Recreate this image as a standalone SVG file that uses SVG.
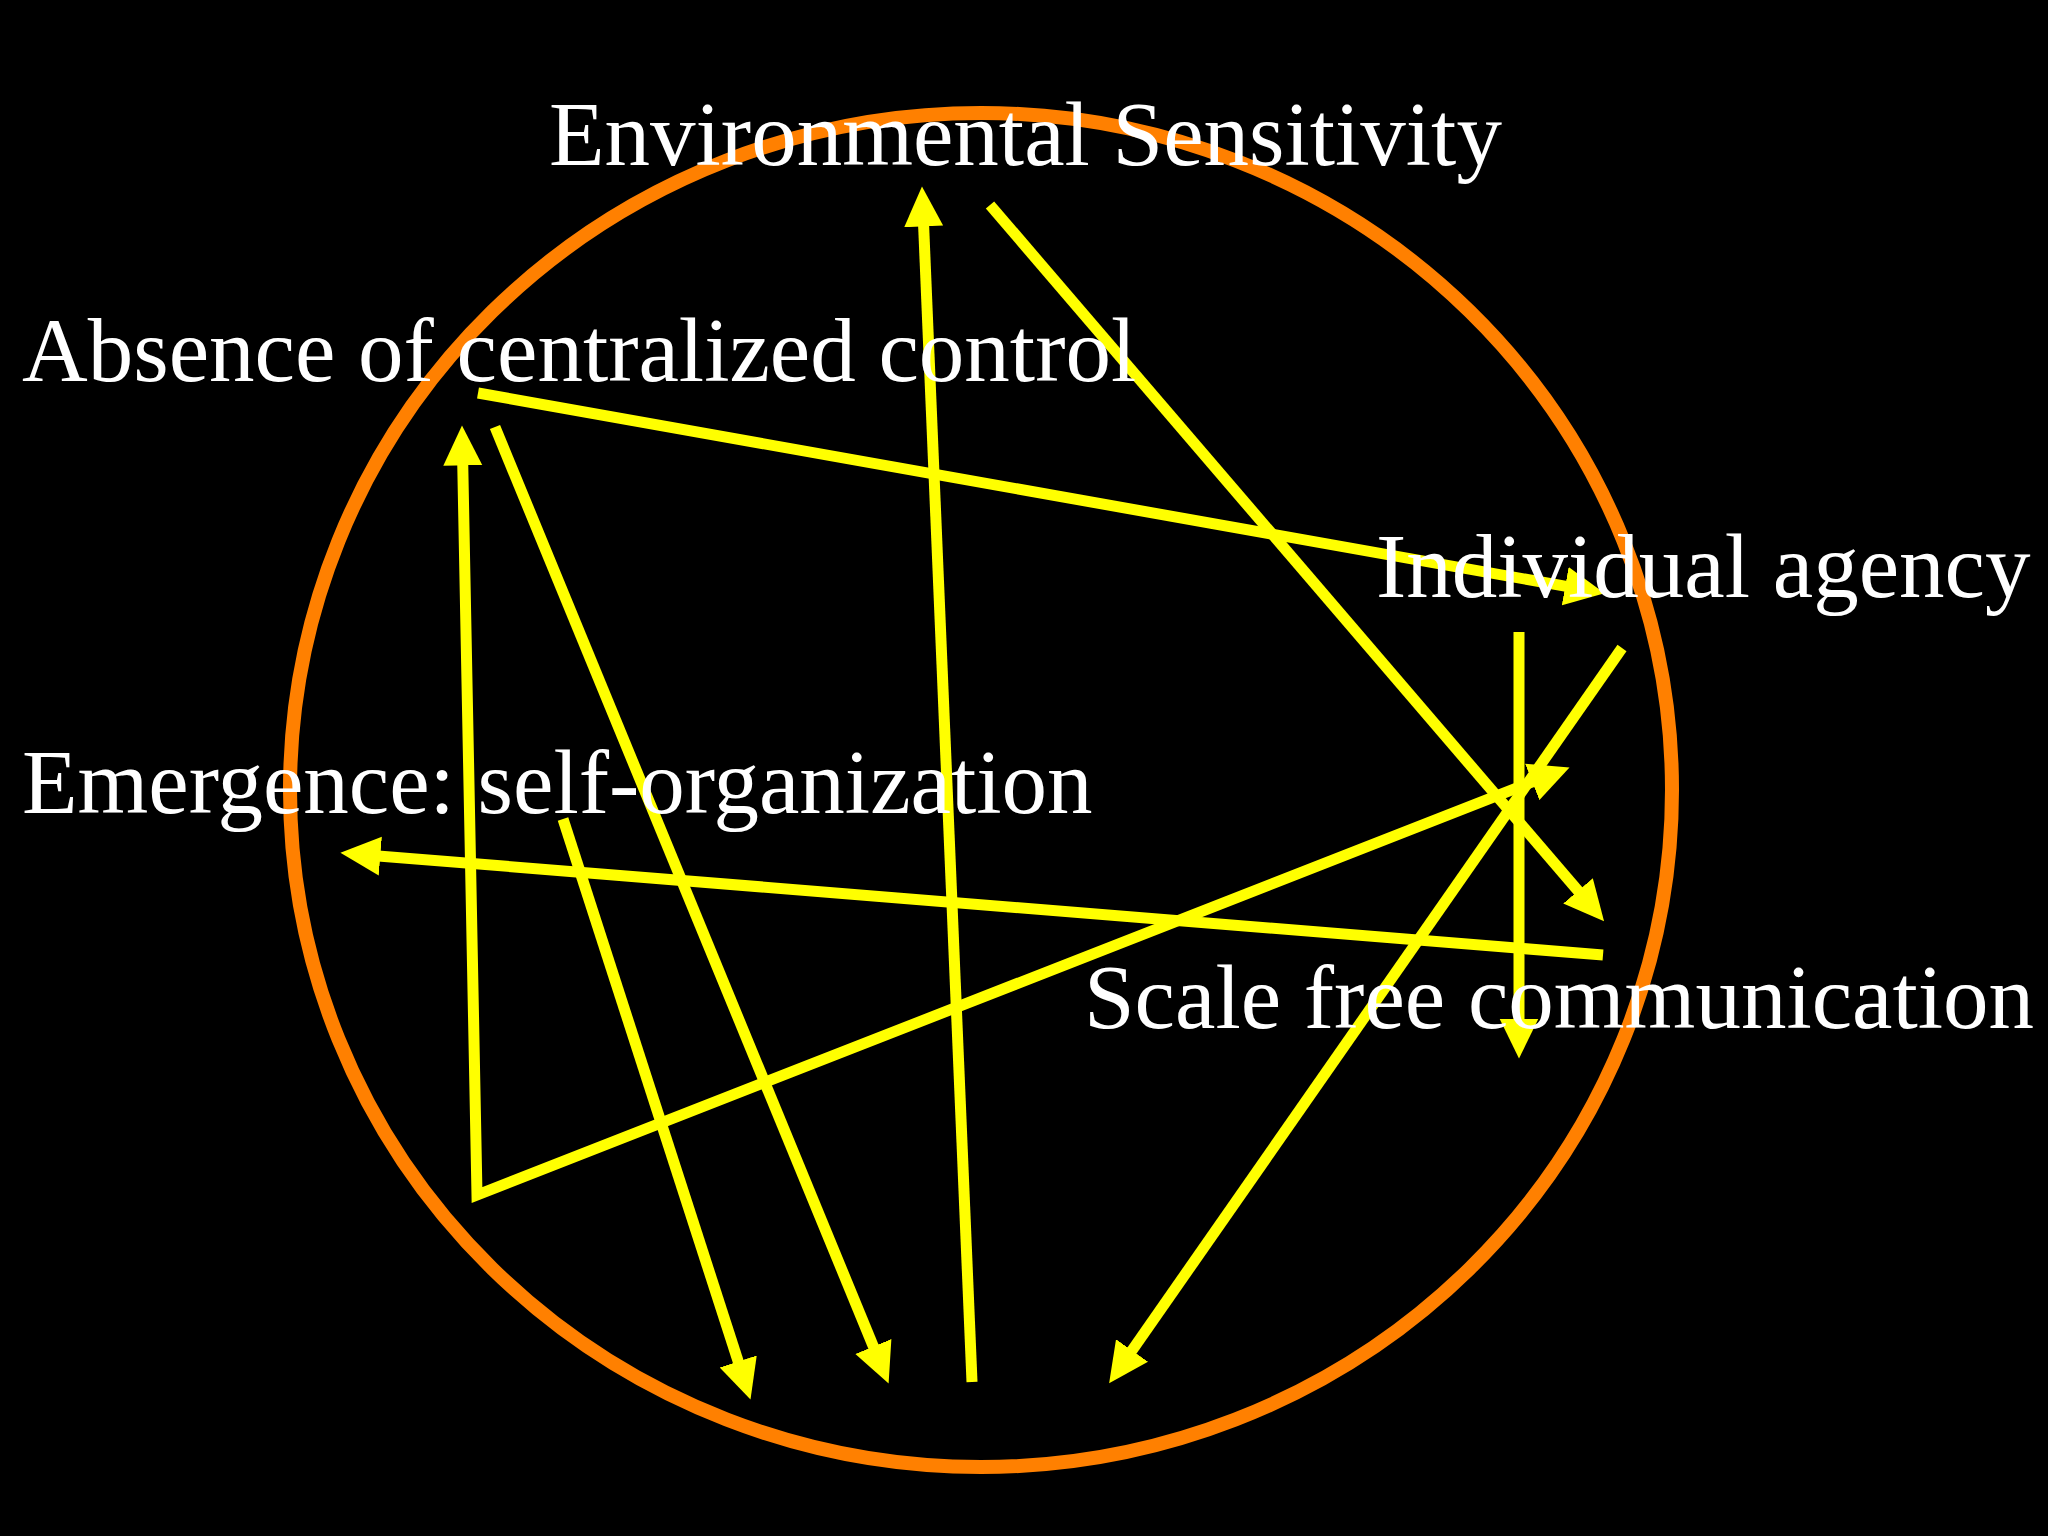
<svg xmlns="http://www.w3.org/2000/svg" width="2048" height="1536" viewBox="0 0 2048 1536">
<style>
.lbl{font-family:"Liberation Serif","Times New Roman",serif;font-size:91px;fill:#FFFFFF}
.ln{fill:none;stroke:#FFFF00;stroke-width:11;stroke-linejoin:miter;marker-end:url(#ah)}
</style>
<defs>
<marker id="ah" markerUnits="userSpaceOnUse" markerWidth="40" markerHeight="40" viewBox="0 0 38 37" refX="8" refY="18.5" orient="auto-start-reverse">
<path d="M0,0 L38,18.5 L0,37 Z" fill="#FFFF00"/>
</marker>
</defs>
<rect x="0" y="0" width="2048" height="1536" fill="#000000"/>
<ellipse cx="981" cy="790" rx="691" ry="677" fill="none" stroke="#FF8000" stroke-width="14"/>
<g id="connectors">
<path class="ln" d="M972,1382 L923.3,218"/>
<path class="ln" d="M990,205 L1583.5,897.2"/>
<path class="ln" d="M478,393 L1573.5,587.7"/>
<path class="ln" d="M462.6,457 L477,1195 L1540.1,778.9" style="marker-start:url(#ah)"/>
<path class="ln" d="M495,427 L876.6,1354.3"/>
<path class="ln" d="M563,819 L740.8,1369.5"/>
<path class="ln" d="M1603,955 L371.9,855.4"/>
<path class="ln" d="M1519,632 L1519,1027"/>
<path class="ln" d="M1622,648 L1127.2,1357.4"/>
</g>
<g id="node-environmental"><text class="lbl" x="549" y="165">Environmental Sensitivity</text></g>
<g id="node-absence"><text class="lbl" x="22" y="381">Absence of centralized control</text></g>
<g id="node-individual"><text class="lbl" x="1376" y="597">Individual agency</text></g>
<g id="node-emergence"><text class="lbl" x="22" y="813">Emergence: self-organization</text></g>
<g id="node-scale"><text class="lbl" x="1084" y="1028">Scale free communication</text></g>
</svg>
